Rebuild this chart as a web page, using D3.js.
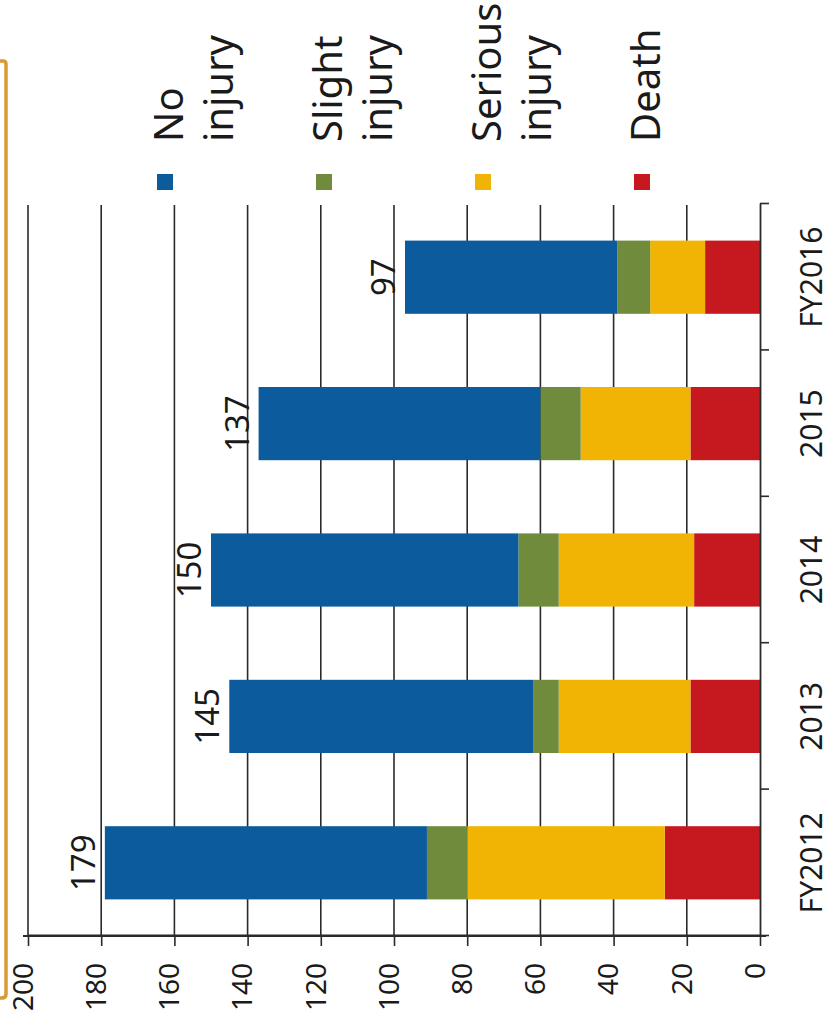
<!DOCTYPE html>
<html>
<head>
<meta charset="utf-8">
<script src="https://cdn.jsdelivr.net/npm/d3@7"></script>
<style>
  html, body { margin: 0; padding: 0; background: #ffffff; }
  svg { display: block; }
  text { font-family: "Noto Sans", "DejaVu Sans", sans-serif; fill: #1a1a1a; }
</style>
</head>
<body>
<svg id="chart" width="832" height="1021"></svg>
<script>
// Fiscal years along the category axis
const categories = ["FY2012", "2013", "2014", "2015", "FY2016"];

// Cases per year, by outcome
const death         = [26, 19, 18, 19, 15];
const seriousInjury = [54, 36, 37, 30, 15];
const slightInjury  = [11,  7, 11, 11,  9];
const noInjury      = [88, 83, 84, 77, 58];

// Totals printed at the end of each bar
const totals = [179, 145, 150, 137, 97];

// Value axis ticks
const tickValues = [0, 20, 40, 60, 80, 100, 120, 140, 160, 180, 200];

// Legend entries (each label may wrap onto two lines)
const legendKeys   = ["noInjury", "slightInjury", "seriousInjury", "death"];
const legendLabels = [["No", "injury"], ["Slight", "injury"], ["Serious", "injury"], ["Death"]];

const colors = {
  death: "#c5181f",
  seriousInjury: "#f1b404",
  slightInjury: "#6f8b3b",
  noInjury: "#0b5b9d"
};

const svg = d3.select("#chart");
const W = 1021, H = 832;   // drawing frame before the quarter turn

// The chart is laid out as a column chart and turned a quarter counter-clockwise
const g = svg.append("g").attr("transform", `translate(0,${W}) rotate(-90)`);

const x = d3.scaleBand().domain(categories).range([85, 817]).paddingInner(0.5).paddingOuter(0.25);
const y = d3.scaleLinear().domain([0, 200]).range([760, 28]);

// Horizontal grid lines
g.append("g").selectAll("line")
  .data(tickValues.filter(v => v > 0))
  .join("line")
  .attr("x1", 85).attr("x2", 816)
  .attr("y1", d => y(d)).attr("y2", d => y(d))
  .attr("stroke", "#2a2a2a").attr("stroke-width", 1.6);

// Stacked bars: death at the base, then serious, slight, no injury
const rows = categories.map((c, i) => ({
  cat: c,
  death: death[i],
  seriousInjury: seriousInjury[i],
  slightInjury: slightInjury[i],
  noInjury: noInjury[i]
}));
const stack = d3.stack().keys(["death", "seriousInjury", "slightInjury", "noInjury"]);
const series = stack(rows);

g.append("g").selectAll("g")
  .data(series)
  .join("g")
  .attr("fill", d => colors[d.key])
  .selectAll("rect")
  .data(d => d)
  .join("rect")
  .attr("x", d => x(d.data.cat))
  .attr("width", x.bandwidth())
  .attr("y", d => y(d[1]))
  .attr("height", d => y(d[0]) - y(d[1]));

// Category axis with ticks between the bands
const edge = d3.scaleLinear().domain([0, categories.length]).range([85, 817]);
const catAxis = g.append("g")
  .attr("transform", `translate(0,${y(0)})`)
  .call(d3.axisBottom(edge).tickValues(d3.range(categories.length + 1)).tickFormat("").tickSize(9).tickSizeOuter(0));
catAxis.select(".domain").attr("stroke", "#2a2a2a").attr("stroke-width", 1.8);
catAxis.selectAll(".tick line").attr("stroke", "#2a2a2a").attr("stroke-width", 1.6);

g.append("g").selectAll("text")
  .data(categories)
  .join("text")
  .attr("x", d => x(d) + x.bandwidth() / 2)
  .attr("y", 822)
  .attr("text-anchor", "middle")
  .attr("font-size", 30)
  .text(d => d);

// Value axis
const valAxis = g.append("g")
  .attr("transform", "translate(85,0)")
  .call(d3.axisLeft(y).tickValues(tickValues).tickSize(10).tickPadding(17).tickSizeOuter(0));
valAxis.select(".domain").attr("stroke", "#2a2a2a").attr("stroke-width", 1.8);
valAxis.selectAll(".tick line").attr("stroke", "#2a2a2a").attr("stroke-width", 1.6);
valAxis.selectAll(".tick text")
  .attr("font-size", 28)
  .attr("font-family", "'Noto Sans', sans-serif")
  .attr("fill", "#1a1a1a")
  .attr("dy", "0.15em");
valAxis.append("line")
  .attr("x1", 0).attr("x2", 0)
  .attr("y1", y(0) + 6).attr("y2", y(200) - 5)
  .attr("stroke", "#2a2a2a").attr("stroke-width", 1.8);

// Totals above each bar
g.append("g").selectAll("text")
  .data(categories)
  .join("text")
  .attr("x", (d, i) => x(d) + x.bandwidth() / 2)
  .attr("y", (d, i) => y(totals[i]) - 10)
  .attr("text-anchor", "middle")
  .attr("font-size", 33)
  .text((d, i) => totals[i]);

// Legend, stacked along the value direction
const ly = d3.scalePoint().domain(legendKeys).range([165, 642]);
const item = g.append("g").selectAll("g")
  .data(legendKeys)
  .join("g")
  .attr("transform", d => `translate(0,${ly(d)})`);
item.append("rect")
  .attr("x", 831).attr("y", -8)
  .attr("width", 16).attr("height", 16)
  .attr("fill", d => colors[d]);
item.append("text")
  .attr("x", 879)
  .attr("font-size", 40)
  .selectAll("tspan")
  .data((d, i) => legendLabels[i])
  .join("tspan")
  .attr("x", 879)
  .attr("y", (d, i) => 18 + i * 50)
  .text(d => d);

// Orange frame edge on the left
svg.append("path")
  .attr("d", "M0,61 H3 Q6,61 6,64 V994 Q6,998 2,998 H0")
  .attr("fill", "none")
  .attr("stroke", "#d99a35")
  .attr("stroke-width", 3.5);
</script>
</body>
</html>
